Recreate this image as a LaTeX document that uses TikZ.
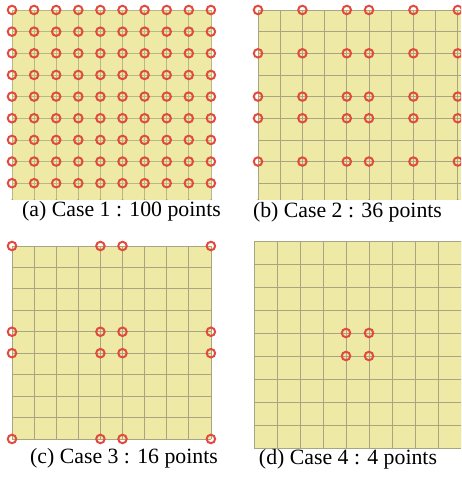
\documentclass[tikz,border=0pt]{standalone}
\usepackage{fontspec}
\setmainfont{Liberation Serif}
\usepackage{tikz}
\definecolor{sheetyellow}{RGB}{238,234,166}
\definecolor{gridgray}{RGB}{168,166,130}
\definecolor{gridgreen}{RGB}{178,186,136}
\definecolor{probered}{RGB}{226,74,62}
\tikzset{
  sheet/.style={fill=sheetyellow},
  gridline/.style={draw=gridgray, line width=0.8pt},
  probe/.style={
    circle,
    draw=probered,
    line width=2pt,
    minimum size=8.5pt,
    inner sep=0pt
  },
  caption/.style={font=\fontsize{21.8}{24}\selectfont, anchor=base}
}

\begin{document}
\begin{tikzpicture}[x=1pt, y=-1pt]
\useasboundingbox (0,0) rectangle (461,479);

% (a) all 100 points
\begin{scope}
\clip (0,0) rectangle (230,199);
\fill[sheet] (12,10) rectangle (211,209);
\foreach \k in {0,...,9} {
  \draw[gridline, draw=gridgreen] (12+22.1*\k,10) -- (12+22.1*\k,209);
  \draw[gridline, draw=gridgreen] (12,10+21.65*\k) -- (211,10+21.65*\k);
}
\foreach \i in {0,...,9}
  \foreach \j in {0,...,9}
    \node[probe] (pa-\i-\j) at (12+22.1*\i,10+21.65*\j) {};
\end{scope}
\node[caption] (capa) at (121.5,216) {(a) Case 1 : 100 points};

% (b) 36 points
\begin{scope}
\clip (240,0) rectangle (461,199);
\fill[sheet] (258,10) rectangle (461,209);
\foreach \k in {0,...,9} {
  \draw[gridline] (258+22.2*\k,10) -- (258+22.2*\k,209);
  \draw[gridline] (258,10+21.65*\k) -- (461,10+21.65*\k);
}
\foreach \i in {0,2,4,5,7,9}
  \foreach \j in {0,2,4,5,7,9}
    \node[probe] (pb-\i-\j) at (258+22.2*\i,10+21.65*\j) {};
\end{scope}
\node[caption] (capb) at (347.5,217) {(b) Case 2 : 36 points};

% (c) 16 points
\fill[sheet] (12,246) rectangle (211,439);
\foreach \k in {0,...,9} {
  \draw[gridline] (12+22.1*\k,246) -- (12+22.1*\k,439);
  \draw[gridline] (12,246+21.44*\k) -- (211,246+21.44*\k);
}
\foreach \i in {0,4,5,9}
  \foreach \j in {0,4,5,9}
    \node[probe] (pc-\i-\j) at (12+22.1*\i,246+21.44*\j) {};
\node[caption] (capc) at (124,463.5) {(c) Case 3 : 16 points};

% (d) 4 points
\begin{scope}
\clip (240,230) rectangle (461,460);
\fill[sheet] (254,241) rectangle (461,448);
\foreach \k in {0,...,9} {
  \draw[gridline] (254+23*\k,241) -- (254+23*\k,448);
  \draw[gridline] (254,241+23*\k) -- (461,241+23*\k);
}
\foreach \i in {4,5}
  \foreach \j in {4,5}
    \node[probe] (pd-\i-\j) at (254+23*\i,241+23*\j) {};
\end{scope}
\node[caption] (capd) at (348,464) {(d) Case 4 : 4 points};
\end{tikzpicture}
\end{document}
